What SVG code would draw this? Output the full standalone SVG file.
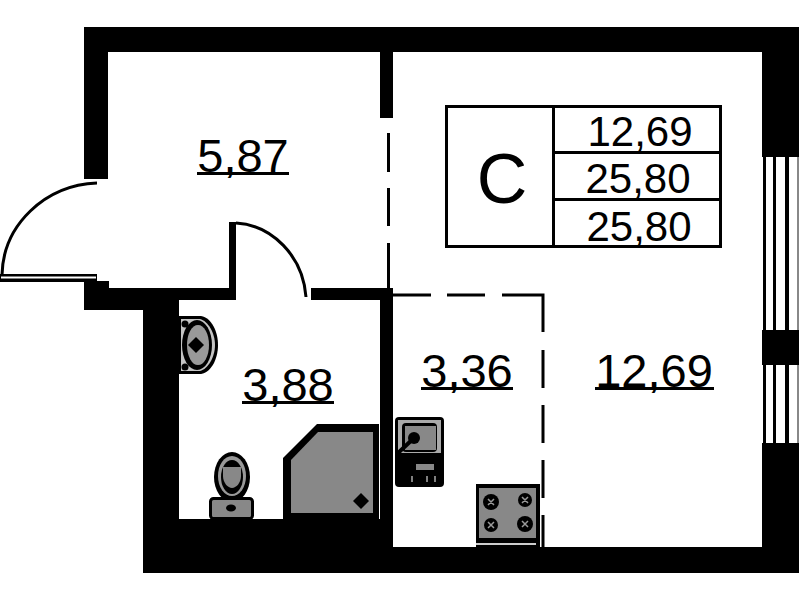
<svg xmlns="http://www.w3.org/2000/svg" width="799" height="600" viewBox="0 0 799 600">
<style>
text{font-family:"Liberation Sans",Arial,sans-serif;fill:#000}
.room{font-size:47px;text-anchor:middle}
.cell{font-size:42px;text-anchor:middle}
.dash{fill:none;stroke:#000;stroke-width:3}
.line{fill:none;stroke:#000;stroke-width:3}
.fix{fill:#888;stroke:#000;stroke-width:3}
</style>
<rect width="799" height="600" fill="#fff"/>
<g id="walls" fill="#000">
<path d="M84 27H799V157H762V52H393V118H380V52H108V179H84Z"/>
<rect x="762" y="330" width="37" height="35"/>
<path d="M762 443H799V573H143V310H84V282H97V281H109V288H229V222H236V300H179V519H380V300H311V288H393V547H762Z"/>
</g>
<g id="window" fill="#000">
<rect x="763" y="157" width="3" height="173"/><rect x="773" y="157" width="3" height="173"/><rect x="785" y="157" width="4" height="173"/><rect x="797" y="157" width="2" height="173" fill="#888"/>
<rect x="763" y="365" width="3" height="78"/><rect x="773" y="365" width="3" height="78"/><rect x="785" y="365" width="4" height="78"/><rect x="797" y="365" width="2" height="78" fill="#888"/>
</g>
<g id="doors">
<path class="line" d="M97 183C45 185 3 225 2 275"/>
<path d="M0 274H97V282H0Z" fill="#000"/>
<path d="M1 276.500H96V278.500H1Z" fill="#fff"/>
<path class="line" d="M236 223C272 225 303 256 306 297"/>
</g>
<g id="partitions">
<path class="dash" d="M388.500 133V172M388.500 188V226M388.500 243V288"/>
<path class="dash" d="M393 295H431M447 295H485M502 295H543V332M543 350V388M543 405V443M543 460V498M543 515V547"/>
</g>
<g id="bath-sink">
<path d="M179 316H201C212 318 218 332 218 345C218 358 212 372 201 374H179Z" fill="#000"/>
<path d="M181 319H200C208 321 215 333 215 345C215 357 208 369 200 371H181Z" fill="#c4c4c4"/>
<ellipse cx="197" cy="345" rx="15" ry="25" fill="#000"/>
<ellipse cx="198" cy="345" rx="11" ry="20" fill="#999"/>
<path d="M188 345L196 337L204 345L196 353Z" fill="#000"/>
<circle cx="185" cy="324" r="3.500" fill="#000"/>
<circle cx="185" cy="367" r="3.500" fill="#000"/>
</g>
<g id="toilet">
<ellipse cx="232" cy="477" rx="18" ry="25" fill="#000"/>
<ellipse cx="232" cy="476" rx="14" ry="20" fill="#999"/>
<ellipse cx="232" cy="477" rx="11" ry="17" fill="#000"/>
<path d="M223 467H241V476C241 483 236 488 232 488C228 488 223 483 223 476Z" fill="#888"/>
<rect x="210.500" y="498.500" width="42" height="20" rx="3" class="fix"/>
<ellipse cx="231" cy="508" rx="5" ry="3.500" fill="#000"/>
</g>
<g id="shower">
<path d="M283 458L317 424H379V519H283Z" fill="#000"/>
<path d="M291 460L318 432H373V513H291Z" fill="#888"/>
<path d="M361 493L369 501L361 509L353 501Z" fill="#000"/>
</g>
<g id="kitchen-sink">
<rect x="395" y="417" width="49" height="70" rx="4" fill="#000"/>
<rect x="398" y="420" width="43" height="33" fill="#aaa"/>
<rect x="402" y="423" width="35" height="29" rx="4" fill="#000"/>
<rect x="405" y="426" width="31" height="24" fill="#888"/>
<circle cx="414" cy="438" r="6" fill="#000"/>
<path d="M414 438L398 453" stroke="#000" stroke-width="4" fill="none"/>
<rect x="398" y="456" width="43" height="28" fill="#000"/>
<rect x="416" y="464" width="18" height="6" fill="#888"/>
<path d="M412 476V482M427 476V482M435 476V482" stroke="#aaa" stroke-width="1.500"/>
</g>
<g id="stove">
<rect x="476" y="484" width="64" height="63" fill="#000"/>
<rect x="479" y="488" width="57" height="50" fill="#888"/>
<rect x="476" y="543" width="60" height="2" fill="#ccc"/>
<g fill="#000"><circle cx="491" cy="502" r="8"/><circle cx="525" cy="500" r="7"/><circle cx="491" cy="525" r="7"/><circle cx="525" cy="524" r="8"/></g>
<path d="M488 499L494 505M494 499L488 505M522 497L528 503M528 497L522 503M488 522L494 528M494 522L488 528M522 521L528 527M528 521L522 527" stroke="#999" stroke-width="1.500"/>
</g>
<g id="legend">
<rect x="446.500" y="106.500" width="274" height="140" fill="none" stroke="#000" stroke-width="3"/>
<path class="line" d="M553.500 106V247M553 152.500H721M553 199.500H721"/>
<text x="502" y="203" font-size="70" text-anchor="middle">C</text>
<text class="cell" x="640" y="146">12,69</text>
<text class="cell" x="638" y="193">25,80</text>
<text class="cell" x="639" y="241">25,80</text>
</g>
<g id="rooms">
<text class="room" x="243" y="172">5,87</text>
<rect x="197" y="172" width="92" height="3"/>
<text class="room" x="288" y="401">3,88</text>
<rect x="242" y="401" width="92" height="3"/>
<text class="room" x="467" y="387">3,36</text>
<rect x="421" y="387" width="92" height="3"/>
<text class="room" x="654" y="387">12,69</text>
<rect x="595" y="387" width="119" height="3"/>
</g>
</svg>
